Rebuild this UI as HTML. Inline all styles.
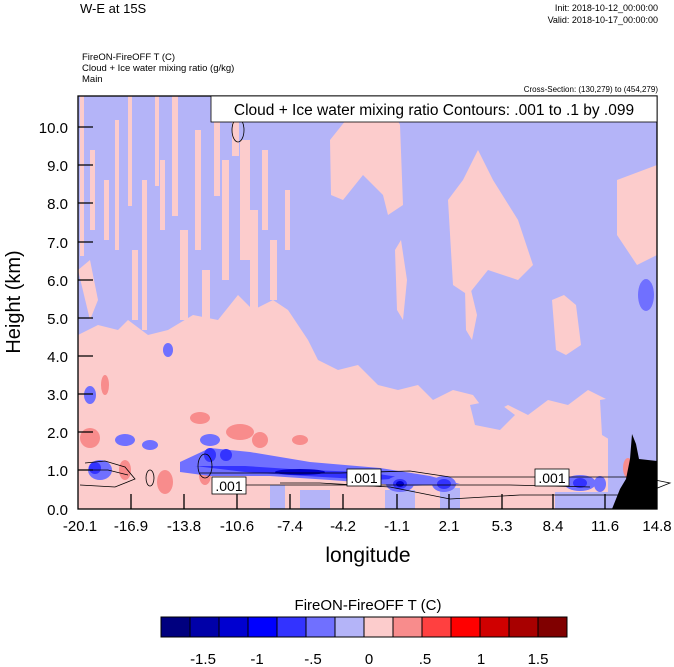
<!DOCTYPE html>
<html><head><meta charset="utf-8"><style>
body{margin:0;background:#fff;width:674px;height:667px;overflow:hidden;font-family:"Liberation Sans",sans-serif}
svg{display:block}
</style></head><body>
<svg width="674" height="667" xmlns="http://www.w3.org/2000/svg" font-family="Liberation Sans, sans-serif">
<text x="80" y="13" font-size="13">W-E at 15S</text>
<text x="658" y="11" font-size="9" text-anchor="end">Init: 2018-10-12_00:00:00</text>
<text x="658" y="23" font-size="9" text-anchor="end">Valid: 2018-10-17_00:00:00</text>
<text x="82" y="60" font-size="9.5">FireON-FireOFF T   (C)</text>
<text x="82" y="71" font-size="9.5">Cloud + Ice water mixing ratio   (g/kg)</text>
<text x="82" y="82" font-size="9.5">Main</text>
<text x="658" y="92" font-size="8" text-anchor="end">Cross-Section: (130,279) to (454,279)</text>
<defs><clipPath id="c"><rect x="78" y="96" width="579" height="413"/></clipPath></defs>
<g clip-path="url(#c)">
<rect x="78" y="96" width="579" height="413" fill="#b4b4f8"/>
<g fill="#fccccc">
<!-- left streaks -->
<path d="M80 96h4v160h-4z"/><path d="M90 150h5v80h-5z"/><path d="M104 180h5v60h-5z"/><path d="M115 120h4v130h-4z"/>
<path d="M128 96h4v110h-4z"/><path d="M132 250h6v70h-6z"/><path d="M142 180h5v150h-5z"/><path d="M155 96h4v90h-4z"/>
<path d="M160 160h5v70h-5z"/><path d="M172 96h6v120h-6z"/><path d="M180 230h8v90h-8z"/><path d="M195 130h6v120h-6z"/>
<path d="M202 270h8v60h-8z"/><path d="M214 96h6v100h-6z"/><path d="M222 160h7v120h-7z"/><path d="M232 96h7v60h-7z"/>
<path d="M240 140h10v120h-10z"/><path d="M250 210h8v110h-8z"/><path d="M262 150h6v80h-6z"/><path d="M270 240h7v60h-7z"/><path d="M285 190h5v60h-5z"/>
<path d="M330 140l20-25 15-20 20 0 15 30 3 80-15 10-5-20-20-20-20 25-12-5z"/>
<path d="M448 200l15-20 15-30 15 30 25 40 15 45-15 15-30-10-20 25-15-10z"/>
<path d="M395 250l6-10 6 40-4 40-6-10z"/><path d="M465 290l6 0 6 25-5 25-6-10z"/>
<path d="M552 300l12-5 12 10 5 40-15 10-10-5z"/><path d="M617 180l40-15v90l-20 10-20-30z"/>
<path d="M78 270l12-10 8 40-8 20z"/>
<!-- lower broad pink -->
<path d="M78 335l20-10 20 5 10-10 20 15 20-5 25-15 25 5 20-25 15 15 20-10 15 10 20 30 10 20 20 10 20-5 20 20 20 5 20-5 15 15 20-10 20 5 15 20 20-10 20 10 20-15 20 5 20 -15 20 10 v180h-579z"/>
</g>
<g fill="#b4b4f8">
<path d="M600 400l57-10v50l-30 10-25-15z"/>
<path d="M470 405l25-5 20 15-15 15-25-5z"/>
<path d="M300 490h30v19h-30z"/><path d="M385 490h30v19h-30z"/><path d="M555 492h55v17h-55z"/>
<path d="M270 485h15v24h-15z"/><path d="M440 488h20v21h-20z"/>
</g>
<g fill="#7070ff">
<ellipse cx="90" cy="395" rx="6" ry="9"/><ellipse cx="168" cy="350" rx="5" ry="7"/><ellipse cx="646" cy="295" rx="8" ry="16"/>
<ellipse cx="125" cy="440" rx="10" ry="6"/><ellipse cx="150" cy="445" rx="8" ry="5"/><ellipse cx="210" cy="440" rx="10" ry="6"/>
</g>
<g fill="#f88c8c">
<ellipse cx="105" cy="385" rx="4" ry="10"/><ellipse cx="90" cy="438" rx="10" ry="10"/><ellipse cx="240" cy="432" rx="14" ry="8"/>
<ellipse cx="200" cy="418" rx="10" ry="6"/><ellipse cx="300" cy="440" rx="8" ry="5"/><ellipse cx="125" cy="470" rx="6" ry="10"/>
<ellipse cx="165" cy="482" rx="8" ry="12"/><ellipse cx="205" cy="475" rx="6" ry="10"/><ellipse cx="250" cy="465" rx="10" ry="7"/>
<ellipse cx="628" cy="468" rx="5" ry="10"/><ellipse cx="260" cy="440" rx="8" ry="8"/>
</g>
<!-- blue band -->
<path d="M180 462l30-14 40 4 60 10 70 6 50 8 30 8-50 2-80-6-60-4-60 0-30 -4z" fill="#7070ff"/>
<path d="M195 466h50l60 4 60 2 40 6-30 2-70-4-60-4z" fill="#3333ff"/>
<g fill="#7070ff"><ellipse cx="400" cy="484" rx="14" ry="8"/><ellipse cx="444" cy="484" rx="12" ry="8"/><ellipse cx="580" cy="483" rx="16" ry="8"/>
<ellipse cx="100" cy="470" rx="12" ry="10"/><ellipse cx="600" cy="484" rx="6" ry="8"/></g>
<g fill="#3333ff"><ellipse cx="400" cy="484" rx="7" ry="5"/><ellipse cx="444" cy="484" rx="7" ry="5"/><ellipse cx="580" cy="483" rx="7" ry="5"/>
<ellipse cx="210" cy="455" rx="6" ry="7"/><ellipse cx="226" cy="455" rx="6" ry="6"/><ellipse cx="95" cy="468" rx="6" ry="6"/></g>
<g fill="#0000cc"><ellipse cx="400" cy="484" rx="4" ry="3"/><ellipse cx="300" cy="472" rx="25" ry="3"/></g>
<!-- terrain -->
<path d="M612 509l8-20 6-10 4-20 2-25 4 10 3 15 18 2 v60z" fill="#000"/>
</g>
<!-- contours -->
<g fill="none" stroke="#000" stroke-width="0.8">
<path d="M85 463l20-2 20 6 10 12-20 8-35-2"/>
<path d="M78 470h30l20 5"/>
<path d="M200 473h80l60 0 70 -2 40 6 120 0 70 0 30 6-30 12-120 0-70 4-60-12-70-4-40 0"/>
<path d="M230 485h280 l80 2"/>
<ellipse cx="238" cy="130" rx="6" ry="12"/><ellipse cx="205" cy="466" rx="7" ry="12"/><ellipse cx="150" cy="478" rx="4" ry="8"/>
</g>
<g stroke="#000" stroke-width="1.3">
<path d="M131 509v-15M184 509v-15M237 509v-15M290 509v-15M343 509v-15M397 509v-15M449 509v-15M502 509v-15M553 509v-15M605 509v-15"/>
<path d="M78 470h15M78 432h15M78 394h15M78 356h15M78 318h15M78 280h15M78 242h15M78 203h15M78 165h15M78 127h15"/>
</g>
<rect x="78" y="96" width="579" height="413" fill="none" stroke="#000" stroke-width="1.3"/>
<g fill="#fff" stroke="#000" stroke-width="0.8">
<rect x="212" y="477" width="34" height="17"/><rect x="347" y="469" width="34" height="17"/><rect x="535" y="469" width="34" height="17"/>
<rect x="211" y="96" width="446" height="26"/>
</g>
<g font-size="14" text-anchor="middle"><text x="229" y="491">.001</text><text x="364" y="483">.001</text><text x="552" y="483">.001</text></g>
<text x="434" y="115" font-size="15.5" text-anchor="middle">Cloud + Ice water mixing ratio Contours: .001 to .1 by .099</text>
<g font-size="15" text-anchor="end">
<text x="68" y="515">0.0</text><text x="68" y="476">1.0</text><text x="68" y="438">2.0</text><text x="68" y="400">3.0</text><text x="68" y="362">4.0</text>
<text x="68" y="324">5.0</text><text x="68" y="286">6.0</text><text x="68" y="248">7.0</text><text x="68" y="209">8.0</text><text x="68" y="171">9.0</text><text x="68" y="133">10.0</text>
</g>
<g font-size="15" text-anchor="middle">
<text x="80" y="531">-20.1</text><text x="131" y="531">-16.9</text><text x="184" y="531">-13.8</text><text x="237" y="531">-10.6</text><text x="290" y="531">-7.4</text><text x="343" y="531">-4.2</text>
<text x="397" y="531">-1.1</text><text x="449" y="531">2.1</text><text x="502" y="531">5.3</text><text x="553" y="531">8.4</text><text x="605" y="531">11.6</text><text x="657" y="531">14.8</text>
</g>
<text x="368" y="562" font-size="21" text-anchor="middle">longitude</text>
<text transform="translate(20 302) rotate(-90)" font-size="20" text-anchor="middle">Height (km)</text>
<text x="368" y="610" font-size="15" text-anchor="middle">FireON-FireOFF T  (C)</text>
<g stroke="#000" stroke-width="1">
<rect x="161" y="617" width="29" height="20" fill="#00007f"/><rect x="190" y="617" width="29" height="20" fill="#0000a8"/>
<rect x="219" y="617" width="29" height="20" fill="#0000d0"/><rect x="248" y="617" width="29" height="20" fill="#0000ff"/>
<rect x="277" y="617" width="29" height="20" fill="#3333ff"/><rect x="306" y="617" width="29" height="20" fill="#7070ff"/>
<rect x="335" y="617" width="29" height="20" fill="#b4b4f8"/><rect x="364" y="617" width="29" height="20" fill="#fccccc"/>
<rect x="393" y="617" width="29" height="20" fill="#f88c8c"/><rect x="422" y="617" width="29" height="20" fill="#ff4040"/>
<rect x="451" y="617" width="29" height="20" fill="#ff0000"/><rect x="480" y="617" width="29" height="20" fill="#d00000"/>
<rect x="509" y="617" width="29" height="20" fill="#a80000"/><rect x="538" y="617" width="29" height="20" fill="#800000"/>
</g>
<g font-size="15" text-anchor="middle">
<text x="203" y="664">-1.5</text><text x="257" y="664">-1</text><text x="313" y="664">-.5</text><text x="369" y="664">0</text><text x="425" y="664">.5</text><text x="481" y="664">1</text><text x="538" y="664">1.5</text>
</g>
</svg>
</body></html>
